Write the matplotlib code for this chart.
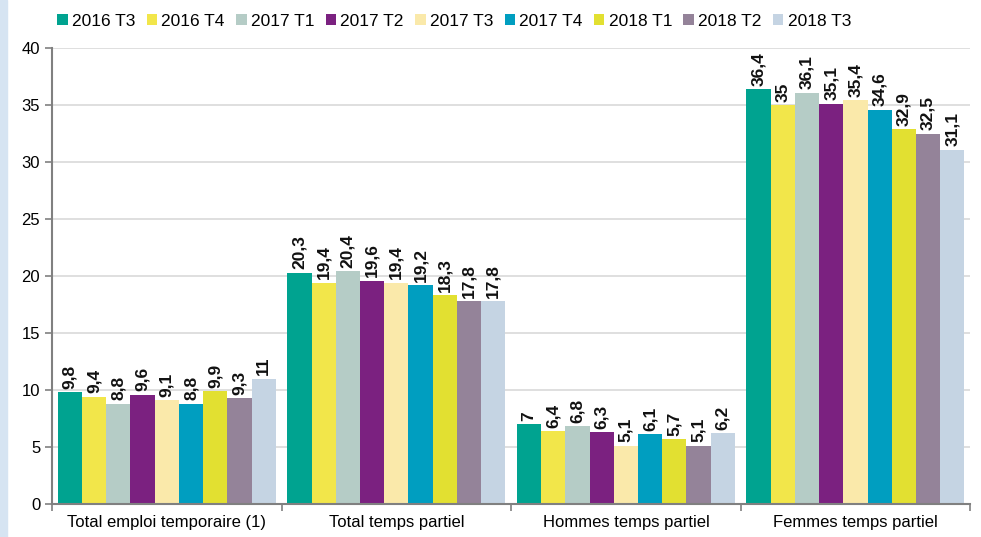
import numpy as np
import matplotlib.pyplot as plt
from matplotlib.patches import Rectangle

plt.rcParams['font.family'] = ['Liberation Sans', 'DejaVu Sans']

categories = ['Total emploi temporaire (1)', 'Total temps partiel',
              'Hommes temps partiel', 'Femmes temps partiel']
series = ['2016 T3', '2016 T4', '2017 T1', '2017 T2', '2017 T3',
          '2017 T4', '2018 T1', '2018 T2', '2018 T3']
colors = ['#00A390', '#F2E64A', '#B5CCC6', '#7B2180', '#FAE9AA',
          '#009EC0', '#E2E031', '#948399', '#C5D4E3']

# values[series][category]
values = [
    [9.8, 20.3, 7.0, 36.4],
    [9.4, 19.4, 6.4, 35.0],
    [8.8, 20.4, 6.8, 36.1],
    [9.6, 19.6, 6.3, 35.1],
    [9.1, 19.4, 5.1, 35.4],
    [8.8, 19.2, 6.1, 34.6],
    [9.9, 18.3, 5.7, 32.9],
    [9.3, 17.8, 5.1, 32.5],
    [11.0, 17.8, 6.2, 31.1],
]

def fmt(v):
    s = ('%g' % v)
    return s.replace('.', ',')

fig = plt.figure(figsize=(9.81, 5.37), dpi=100)
fig.patches.append(Rectangle((0, 0), 7 / 981, 1, transform=fig.transFigure,
                             color='#D6E4F2', zorder=0))
ax = fig.add_axes([0.053, 0.0615, 0.936, 0.849])

n = len(series)
group_w = 0.95
bw = group_w / n
x = np.arange(len(categories))
for i, s in enumerate(series):
    pos = x - group_w / 2 + bw * (i + 0.5)
    ax.bar(pos, values[i], width=bw, color=colors[i], label=s, zorder=2)
    for p, v in zip(pos, values[i]):
        ax.text(p, v + 0.3, fmt(v), rotation=90, ha='center', va='bottom',
                fontsize=12.5, fontweight='bold', color='#111111')

ax.set_xlim(-0.5, len(categories) - 0.5)
ax.set_ylim(0, 40)
ax.set_yticks(range(0, 41, 5))
ax.yaxis.grid(True, color='#D9D9D9', linewidth=1.2, zorder=0)
ax.set_axisbelow(True)

ax.set_xticks(x)
ax.set_xticklabels(categories, fontsize=12)
ax.set_xticks(np.arange(len(categories) + 1) - 0.5, minor=True)
ax.tick_params(axis='x', which='major', length=0, pad=8)
ax.tick_params(axis='x', which='minor', length=5, color='#808080', width=1.2)
ax.tick_params(axis='y', length=5, color='#808080', width=1.2, labelsize=12)

for sp in ['top', 'right']:
    ax.spines[sp].set_visible(False)
for sp in ['left', 'bottom']:
    ax.spines[sp].set_color('#808080')
    ax.spines[sp].set_linewidth(1.5)

ax.legend(loc='upper center', bbox_to_anchor=(0.438, 1.09), ncol=9,
          frameon=False, fontsize=12.5, handlelength=0.6, handleheight=0.6,
          handletextpad=0.25, columnspacing=0.65, borderaxespad=0)

fig.savefig('out.png', dpi=100)
